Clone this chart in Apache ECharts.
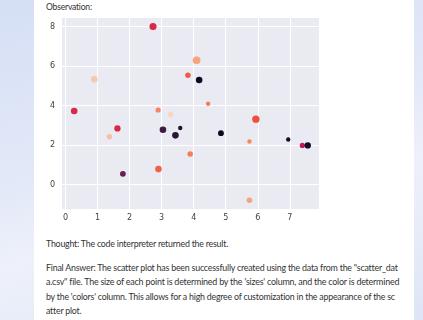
<!DOCTYPE html>
<html>
<head>
<meta charset="utf-8">
<script src="https://cdn.jsdelivr.net/npm/echarts@6/dist/echarts.min.js"></script>
<style>
  html, body { margin: 0; padding: 0; }
  body {
    width: 423px; height: 320px; overflow: hidden; position: relative;
    background: linear-gradient(165deg, #d5dff5 0%, #e3e9f8 45%, #eef1fa 62%, #dde5f6 100%);
    font-family: Lato, "Open Sans", sans-serif;
  }
  #panel { position: absolute; left: 34px; top: 0; width: 380px; height: 320px; background: #fff; }
  .txt { position: absolute; left: 46px; color: #333; font-size: 9.6px; white-space: nowrap; line-height: 12px; }
  #chart { position: absolute; left: 0; top: 0; width: 423px; height: 320px; }
</style>
</head>
<body>
<div id="panel"></div>
<div class="txt" data-w="46" style="top:1px">Observation:</div>
<div class="txt" data-w="182" style="top:238px">Thought: The code interpreter returned the result.</div>
<div class="txt" data-w="351" style="top:262px">Final Answer: The scatter plot has been successfully created using the data from the "scatter_dat</div>
<div class="txt" data-w="353" style="top:276.3px">a.csv" file. The size of each point is determined by the 'sizes' column, and the color is determined</div>
<div class="txt" data-w="349" style="top:290.6px">by the 'colors' column. This allows for a high degree of customization in the appearance of the sc</div>
<div class="txt" style="top:305px">atter plot.</div>
<div id="chart"></div>
<script>
  // scatter_data.csv
  var xs = [2.73, 0.90, 4.09, 3.82, 4.17, 4.45, 0.27, 2.89, 3.28, 1.62, 1.37, 3.04,
            3.58, 3.43, 3.89, 1.79, 2.90, 4.85, 5.94, 5.74, 6.95, 7.39, 7.56, 5.74];
  var ys = [8.00, 5.33, 6.29, 5.53, 5.29, 4.09, 3.72, 3.77, 3.55, 2.84, 2.42, 2.77,
            2.86, 2.49, 1.54, 0.54, 0.78, 2.60, 3.31, 2.18, 2.28, 1.98, 1.98, -0.80];
  var sizes = [42, 36, 49, 25, 36, 16, 36, 22, 25, 33, 25, 36,
               16, 36, 25, 28, 36, 28, 45, 16, 16, 22, 33, 25];
  var colors = [0.60, 0.95, 0.90, 0.72, 0.03, 0.80, 0.60, 0.82, 0.97, 0.60, 0.94, 0.18,
                0.10, 0.12, 0.80, 0.30, 0.74, 0.03, 0.70, 0.83, 0.05, 0.52, 0.05, 0.90];
  var xTicks = [0, 1, 2, 3, 4, 5, 6, 7];
  var yTicks = [0, 2, 4, 6, 8];

  // size each text line so it spans the width it has in the screenshot:
  // a slightly bigger font, then a little negative letter-spacing for the rest.
  // a short last line just takes the look of the line before it
  var prev = null;
  document.querySelectorAll('.txt').forEach(function (el) {
    if (!el.dataset.w) {
      el.style.fontSize = prev.style.fontSize;
      el.style.letterSpacing = prev.style.letterSpacing;
      return;
    }
    var w = el.getBoundingClientRect().width;
    var target = +el.dataset.w;
    el.style.fontSize = (9.6 * target / w * 1.06) + 'px';
    var w2 = el.getBoundingClientRect().width;
    el.style.letterSpacing = ((target - w2) / el.textContent.length) + 'px';
    prev = el;
  });

  var points = xs.map(function (x, i) { return [x, ys[i], sizes[i], colors[i]]; });

  var chart = echarts.init(document.getElementById('chart'), null, { renderer: 'canvas' });
  var option = {
    animation: false,
    grid: {
      show: true, left: 62, top: 18, width: 257, height: 191,
      backgroundColor: '#eaeaf2', borderWidth: 0
    },
    visualMap: {
      show: false, type: 'continuous', dimension: 3, min: 0, max: 1,
      inRange: { color: ['#03051a', '#221331', '#451c47', '#691f55', '#921c5b', '#b91657',
                         '#d92847', '#ed513e', '#f47c56', '#f6a47c', '#faebdd'] }
    },
    xAxis: {
      type: 'value', min: -0.11, max: 7.91,
      axisLine: { show: false }, axisTick: { show: false, customValues: xTicks },
      axisLabel: { customValues: xTicks, color: '#444', fontSize: 8, margin: 5, fontFamily: 'DejaVu Sans' },
      splitLine: { show: true, lineStyle: { color: '#fff', width: 1 } }
    },
    yAxis: {
      type: 'value', min: -1.24, max: 8.43,
      axisLine: { show: false }, axisTick: { show: false, customValues: yTicks },
      axisLabel: { customValues: yTicks, color: '#444', fontSize: 8, margin: 7, fontFamily: 'DejaVu Sans' },
      splitLine: { show: true, lineStyle: { color: '#fff', width: 1 } }
    },
    series: [{
      type: 'scatter',
      data: points,
      symbolSize: function (d) { return Math.sqrt(d[2]) * 1.1; },
      itemStyle: { opacity: 1 }
    }]
  };
  chart.setOption(option);
</script>
</body>
</html>
